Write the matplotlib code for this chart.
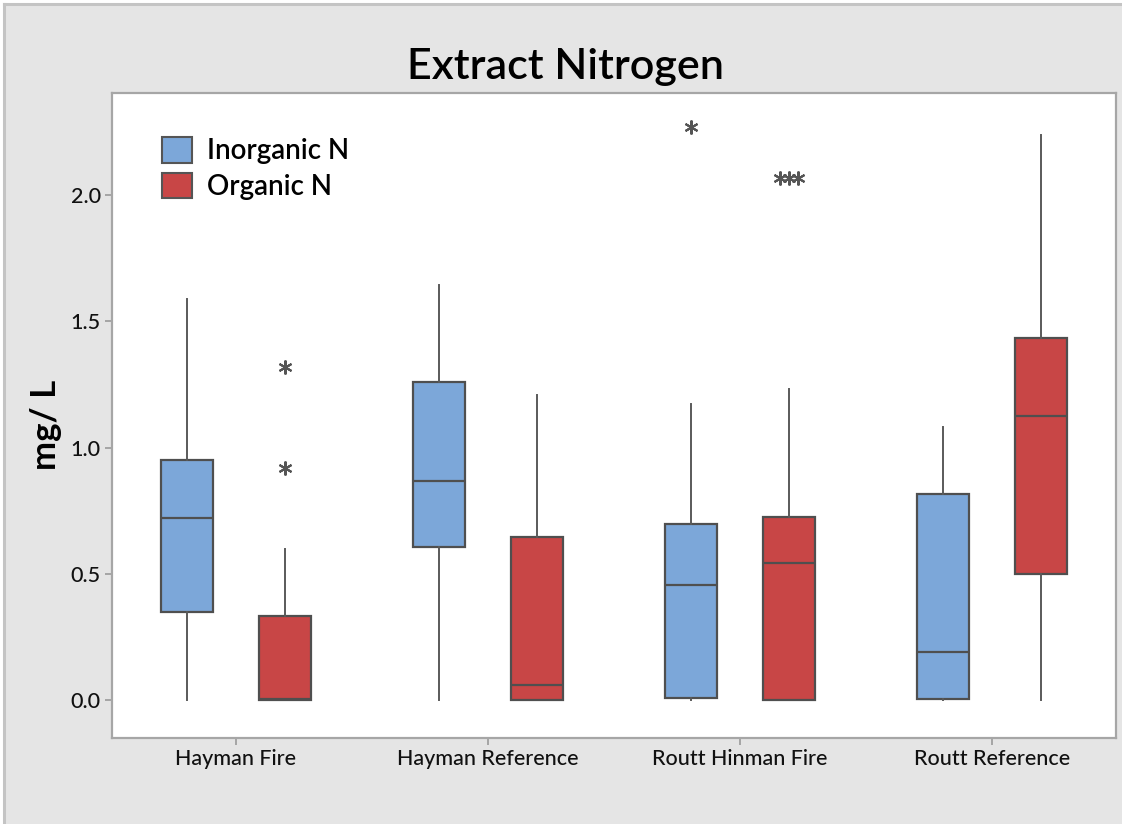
import matplotlib
matplotlib.use("Agg")
import matplotlib.pyplot as plt
from matplotlib.patches import Patch, Rectangle
from matplotlib.lines import Line2D
import numpy as np

plt.rcParams['font.family'] = ['Lato', 'DejaVu Sans']

# summary values per site (mg/L)
sites = ["Hayman Fire", "Hayman Reference", "Routt Hinman Fire", "Routt Reference"]

inorg_lo = [0.0, 0.0, 0.0, 0.0]
inorg_q1 = [0.35, 0.605, 0.007, 0.005]
inorg_med = [0.72, 0.87, 0.458, 0.19]
inorg_q3 = [0.953, 1.26, 0.697, 0.815]
inorg_hi = [1.59, 1.645, 1.175, 1.08]
inorg_out = [[], [], [2.27], []]

org_lo = [0.0, 0.0, 0.0, 0.0]
org_q1 = [0.0, 0.0, 0.0, 0.5]
org_med = [0.005, 0.058, 0.544, 1.125]
org_q3 = [0.334, 0.647, 0.724, 1.435]
org_hi = [0.60, 1.207, 1.234, 2.238]
org_out = [[0.92, 1.32], [], [2.07, 2.07, 2.07], []]

blue = "#7ca7d9"
red = "#c84646"
edge = "#4f4f4f"


def make_stats(lo, q1, med, q3, hi):
    return [dict(whislo=a, q1=b, med=c, q3=d, whishi=e, fliers=[])
            for a, b, c, d, e in zip(lo, q1, med, q3, hi)]


def draw_outliers(ax, xs, outs):
    # tied outliers are set side by side
    for x, vals in zip(xs, outs):
        for v in sorted(set(vals)):
            n = vals.count(v)
            offs = (np.arange(n) - (n - 1) / 2) * 0.036
            ax.plot(x + offs, [v] * n, linestyle='none', marker=(6, 2, 0),
                    markersize=10, markeredgewidth=1.5, color="#555555", zorder=4)


fig = plt.figure(figsize=(11.22, 8.24), dpi=100, facecolor="white")

# grey panel with a frame line on its top and left edges
x0, y1 = 4 / 1122, 820 / 824
fig.patches.append(Rectangle((x0, 0), 1 - x0, y1, transform=fig.transFigure,
                             facecolor="#e5e5e5", edgecolor="none", zorder=-10))
fig.lines.append(Line2D([x0, 1], [y1, y1], transform=fig.transFigure,
                        color="#c4c4c4", linewidth=2.2))
fig.lines.append(Line2D([x0, x0], [0, y1], transform=fig.transFigure,
                        color="#c4c4c4", linewidth=2.2))

ax = fig.add_axes([112 / 1122, 86 / 824, 1004 / 1122, 645 / 824])
ax.set_facecolor("white")

x = np.arange(len(sites))
off = 0.194
w = 0.206

for stats, pos, col in [(make_stats(inorg_lo, inorg_q1, inorg_med, inorg_q3, inorg_hi), x - off, blue),
                        (make_stats(org_lo, org_q1, org_med, org_q3, org_hi), x + off, red)]:
    ax.bxp(stats, positions=pos, widths=w, patch_artist=True, showcaps=False,
           showfliers=False, manage_ticks=False,
           boxprops=dict(facecolor=col, edgecolor=edge, linewidth=1.6),
           medianprops=dict(color=edge, linewidth=1.6),
           whiskerprops=dict(color="#5a5a5a", linewidth=1.4))

draw_outliers(ax, x - off, inorg_out)
draw_outliers(ax, x + off, org_out)

ax.set_xlim(-0.492, 3.492)
ax.set_ylim(-0.15, 2.405)
ax.set_xticks(x)
ax.set_xticklabels(sites)
ax.set_yticks([0.0, 0.5, 1.0, 1.5, 2.0])
ax.set_yticklabels(["0.0", "0.5", "1.0", "1.5", "2.0"])
ax.tick_params(axis='both', direction='out', length=5, width=1.2, color="#9a9a9a",
               labelsize=15.5, labelcolor="#111111", pad=3)
for lab in ax.get_xticklabels() + ax.get_yticklabels():
    lab.set_fontweight('medium')

for s in ax.spines.values():
    s.set_color("#a6a6a6")
    s.set_linewidth(1.6)

ax.set_ylabel("mg/ L", fontsize=25, fontweight='bold')
ax.yaxis.set_label_coords(-0.05, 0.485)

fig.text(0.504, (824 - 79) / 824, "Extract Nitrogen", ha='center', va='baseline',
         fontsize=31, fontweight='semibold')

handles = [Patch(facecolor=blue, edgecolor="#555555", linewidth=1.5),
           Patch(facecolor=red, edgecolor="#555555", linewidth=1.5)]
ax.legend(handles, ["Inorganic N", "Organic N"], loc='upper left',
          bbox_to_anchor=(0.05, 0.932), frameon=False,
          handlelength=1.08, handleheight=1.05, handletextpad=0.55,
          labelspacing=0.3, borderpad=0, borderaxespad=0,
          prop=dict(size=20, weight='semibold'))

fig.savefig("out.png", dpi=100, facecolor=fig.get_facecolor())
